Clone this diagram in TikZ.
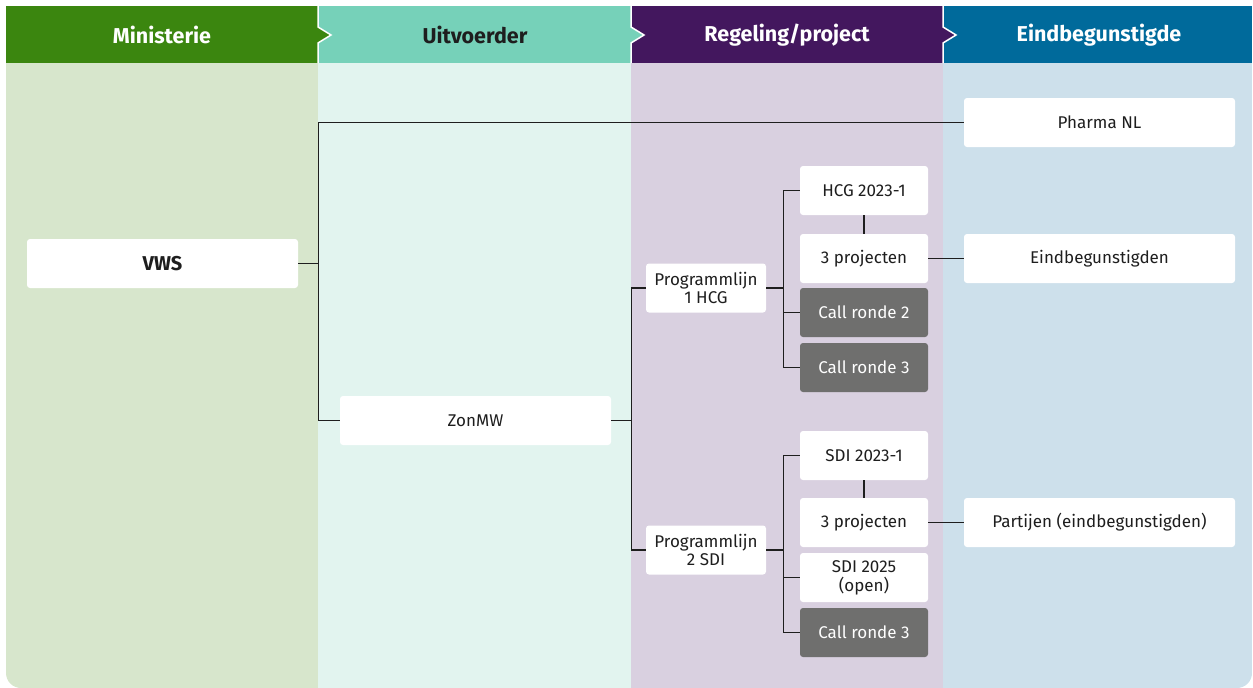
\documentclass[tikz,border=0pt]{standalone}
\usepackage{fontspec}
\setmainfont{Fira Sans}
\usepackage{tikz}
\usetikzlibrary{positioning}
\definecolor{minhead}{HTML}{3B860F}
\definecolor{uitvhead}{HTML}{76D1B9}
\definecolor{reghead}{HTML}{43175E}
\definecolor{eindhead}{HTML}{006A9B}
\definecolor{minbody}{HTML}{D7E6CC}
\definecolor{uitvbody}{HTML}{E2F4EF}
\definecolor{regbody}{HTML}{D9D0E0}
\definecolor{eindbody}{HTML}{CDE0EB}
\definecolor{callgray}{HTML}{6F6F6E}
\definecolor{inkdark}{HTML}{1E1E1E}

\begin{document}
\begin{tikzpicture}[x=1pt,y=-1pt,
  box/.style={fill=white,rounded corners=3pt,inner sep=0pt,minimum height=49pt,align=center,
    text=inkdark,font=\fontsize{17}{18}\selectfont},
  widebox/.style={box,minimum width=271pt},
  progbox/.style={box,minimum width=120pt},
  smallbox/.style={box,minimum width=128pt},
  callbox/.style={smallbox,fill=callgray,text=white},
  head/.style={font=\bfseries\fontsize{21.5}{23}\selectfont},
  link/.style={draw=inkdark,line width=1.2pt}]
\useasboundingbox (0,0) rectangle (1253,688);
\begin{scope}
\clip[rounded corners=15pt] (6,-30) rectangle (1252,688);
\fill[minbody] (6,63) rectangle (318,688);
\fill[uitvbody] (318,63) rectangle (631,688);
\fill[regbody] (631,63) rectangle (943,688);
\fill[eindbody] (943,63) rectangle (1252,688);
\fill[minhead] (6,6) rectangle (318,63);
\fill[uitvhead] (318,6) rectangle (631,63);
\fill[reghead] (631,6) rectangle (943,63);
\fill[eindhead] (943,6) rectangle (1252,63);
\foreach \xx/\cc in {318/minhead,631/uitvhead,943/reghead}{
  \fill[\cc] (\xx,27) -- (\xx+13,35) -- (\xx,43) -- cycle;
  \draw[white,line width=1.5pt] (\xx,6) -- (\xx,27) -- (\xx+13,35) -- (\xx,43) -- (\xx,63);
}
\end{scope}
\node[head,text=white] (hmin) at (162,35) {Ministerie};
\node[head,text=inkdark] (huitv) at (475,35) {Uitvoerder};
\node[head,text=white] (hreg) at (787,35) {Regeling/project};
\node[head,text=white] (heind) at (1099,35) {Eindbegunstigde};

\node[widebox,font=\bfseries\fontsize{20}{21}\selectfont] (vws) at (162.5,263.5) {VWS};
\node[widebox] (pharma) at (1099.5,122.5) {Pharma NL};
\node[widebox] (zonmw) at (475.5,420.5) {ZonMW};
\node[widebox] (eind) at (1099.5,258.5) {Eindbegunstigden};
\node[widebox] (partijen) at (1099.5,522.5) {Partijen (eindbegunstigden)};

\node[progbox] (prog1) at (706,288) {Programmlijn\\1 HCG};
\node[progbox] (prog2) at (706,550) {Programmlijn\\2 SDI};

\node[smallbox] (hcg) at (864,190.5) {HCG 2023-1};
\node[smallbox] (proja) at (864,258.5) {3 projecten};
\node[callbox] (callb) at (864,312.5) {Call ronde 2};
\node[callbox] (callc) at (864,367.5) {Call ronde 3};

\node[smallbox] (sdi) at (864,455.5) {SDI 2023-1};
\node[smallbox] (projb) at (864,522.5) {3 projecten};
\node[smallbox,font=\fontsize{17}{19}\selectfont] (sdiopen) at (864,577.5) {SDI 2025\\(open)};
\node[callbox] (calld) at (864,632.5) {Call ronde 3};

\draw[link] (vws.east) -- ++(20,0) |- (pharma.west);
\draw[link] (vws.east) -- ++(20,0) |- (zonmw.west);
\draw[link] (zonmw.east) -- ++(20,0) |- (prog1.west);
\draw[link] (zonmw.east) -- ++(20,0) |- (prog2.west);
\foreach \t in {hcg,callb,callc}
  \draw[link] (prog1.east) -- ++(17,0) |- (\t.west);
\foreach \t in {sdi,sdiopen,calld}
  \draw[link] (prog2.east) -- ++(17,0) |- (\t.west);
\draw[link] (hcg.south) -- (proja.north);
\draw[link] (sdi.south) -- (projb.north);
\draw[link] (proja.east) -- (eind.west);
\draw[link] (projb.east) -- (partijen.west);
\end{tikzpicture}
\end{document}
